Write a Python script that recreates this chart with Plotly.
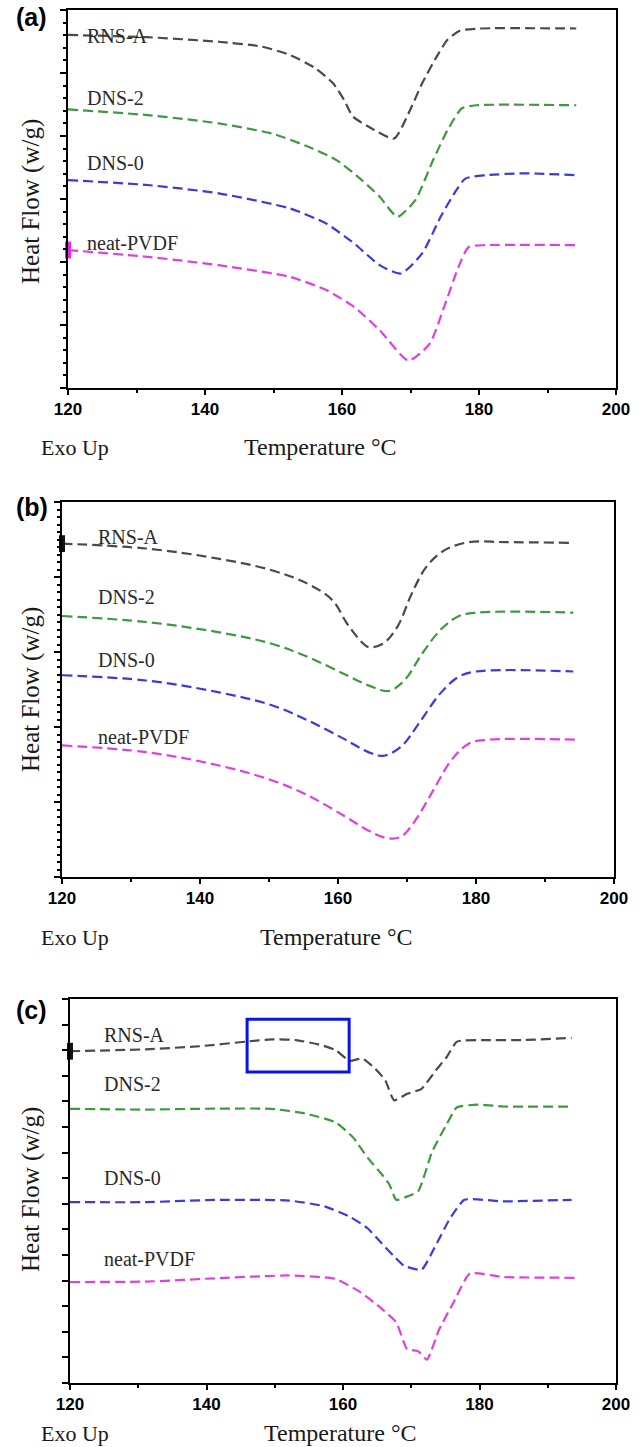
import plotly.graph_objects as go

# ---------------- data (temperature in °C, heat flow in arbitrary units, 0-100 of axis) -------------
# Panel (a)
a_rns_T = [120, 131.6, 142.0, 148.3, 152.4, 156.1, 158.7, 160.3, 161.6, 163.9, 167.6, 169.7, 171.7, 173.8, 175.4, 177.2, 180.1, 194.2]
a_rns_H = [93.4, 92.8, 91.6, 90.3, 88.1, 84.6, 80.6, 76.2, 71.8, 69.1, 66.0, 72.6, 80.6, 87.6, 92.1, 94.5, 95.1, 95.1]
a_dns2_T = [120, 131.6, 142.0, 149.8, 155.1, 159.2, 162.9, 165.5, 168.1, 170.7, 173.3, 175.4, 177.5, 179.6, 194.2]
a_dns2_H = [73.7, 72.2, 70.0, 67.3, 63.8, 60.3, 55.0, 50.6, 45.3, 49.7, 60.3, 68.2, 74.0, 74.8, 74.8]
a_dns0_T = [120, 131.6, 142.0, 152.4, 157.7, 161.8, 165.5, 168.6, 171.7, 174.4, 176.4, 178.0, 181.1, 186.4, 194.2]
a_dns0_H = [55.0, 53.7, 51.5, 47.5, 43.5, 38.2, 32.5, 30.3, 35.6, 45.3, 51.5, 55.4, 56.3, 56.8, 56.3]
a_pvdf_T = [120, 131.6, 142.0, 152.4, 157.7, 161.8, 165.5, 169.7, 172.8, 174.9, 177.0, 178.5, 181.1, 194.2]
a_pvdf_H = [36.5, 34.7, 32.5, 29.4, 25.9, 21.4, 15.3, 7.3, 11.7, 21.4, 32.0, 37.3, 37.8, 37.8]

# Panel (b)
b_rns_T = [120, 132.2, 142.6, 150.4, 155.6, 159.2, 161.3, 163.4, 164.4, 166.5, 168.6, 170.7, 172.8, 175.4, 179.0, 184.2, 194.1]
b_rns_H = [88.9, 87.6, 84.9, 81.8, 78.2, 73.8, 67.6, 62.7, 61.3, 62.2, 66.7, 75.6, 82.7, 87.1, 89.3, 89.3, 89.1]
b_dns2_T = [120, 132.2, 142.6, 150.4, 155.6, 160.8, 164.4, 167.3, 169.6, 172.2, 174.8, 177.4, 180.0, 194.1]
b_dns2_H = [69.6, 68.0, 65.3, 62.2, 58.7, 54.2, 51.1, 49.6, 52.4, 59.6, 65.8, 69.5, 70.5, 70.5]
b_dns0_T = [120, 132.2, 142.6, 150.4, 155.6, 160.8, 164.4, 166.5, 169.1, 171.7, 174.8, 177.4, 180.0, 194.1]
b_dns0_H = [53.8, 52.4, 49.3, 45.8, 41.8, 36.9, 33.3, 32.3, 34.7, 40.9, 48.9, 53.3, 54.8, 54.8]
b_pvdf_T = [120, 132.2, 142.6, 150.4, 155.6, 160.8, 164.4, 167.0, 169.1, 171.2, 173.8, 176.4, 179.0, 181.6, 194.6]
b_pvdf_H = [35.1, 33.3, 29.8, 25.8, 21.8, 16.4, 12.4, 10.4, 10.7, 15.1, 23.1, 31.1, 35.6, 36.6, 36.6]

# Panel (c)
c_rns_T = [120, 131.1, 139.0, 145.8, 149.5, 153.1, 156.8, 158.9, 161.0, 162.8, 164.7, 166.2, 167.5, 169.4, 171.5, 173.6, 175.2, 176.7, 180.9, 186.2, 193.5]
c_rns_H = [86.4, 86.9, 87.7, 88.9, 89.5, 89.3, 88.0, 86.7, 83.9, 84.5, 81.9, 78.8, 73.6, 75.3, 76.6, 81.4, 84.9, 88.9, 89.3, 89.3, 89.9]
c_dns2_T = [120, 131.1, 139.0, 149.5, 154.7, 158.9, 161.5, 163.6, 165.7, 166.8, 167.8, 169.4, 171.0, 173.1, 175.2, 176.7, 179.9, 183.5, 193.5]
c_dns2_H = [71.4, 71.2, 71.4, 71.4, 70.1, 67.9, 63.9, 58.7, 54.3, 51.7, 47.7, 48.6, 49.9, 60.4, 67.4, 71.8, 72.5, 72.0, 72.0]
c_dns0_T = [120, 131.1, 141.6, 152.1, 157.3, 161.0, 163.6, 165.7, 167.3, 168.9, 171.5, 173.6, 175.7, 177.8, 183.5, 193.5]
c_dns0_H = [47.1, 47.1, 47.7, 47.5, 46.0, 43.3, 40.3, 36.3, 33.3, 30.6, 29.5, 35.9, 42.9, 47.7, 47.3, 47.7]
c_pvdf_T = [120, 131.1, 141.6, 152.1, 158.9, 162.6, 165.7, 167.8, 169.4, 171.0, 172.3, 174.1, 176.2, 178.6, 183.5, 194.0]
c_pvdf_H = [26.3, 26.4, 27.3, 28.0, 27.1, 23.6, 19.3, 15.8, 8.8, 8.3, 6.1, 14.0, 21.0, 28.5, 27.6, 27.4]

# highlighted box in panel (c): temperature range and heat-flow range
box_T = [145.95, 160.9]
box_H = [81.0, 94.7]

series_names = ["RNS-A", "DNS-2", "DNS-0", "neat-PVDF"]
series_colors = ["#4a4a4a", "#3f9a3f", "#3a3ae0", "#e040e0"]

# label positions (T, H) per panel
a_label_T = [122.5, 122.5, 122.5, 122.5]
a_label_H = [93.2, 76.6, 59.6, 38.4]
b_label_T = [124.9, 124.9, 124.9, 124.9]
b_label_H = [90.8, 74.7, 57.8, 37.3]
c_label_T = [124.7, 124.7, 124.7, 124.7]
c_label_H = [90.6, 77.9, 53.4, 32.4]

x_ticks = [120, 140, 160, 180, 200]
x_ticktext = ["120", "140", "160", "180", "200"]

W, H = 639, 1447

def py(p):
    return 1 - p / H

def px(p):
    return p / W

panels = [
    dict(series=[(a_rns_T, a_rns_H), (a_dns2_T, a_dns2_H), (a_dns0_T, a_dns0_H), (a_pvdf_T, a_pvdf_H)],
         labT=a_label_T, labH=a_label_H, marker=3, left=68, right=616, top=10, bottom=388, smooth=0.6,
         ydt=100 / 6, yminor=100 / 30, tag="(a)", tagy=17, ylab=202, exoy=447, tempx=242),
    dict(series=[(b_rns_T, b_rns_H), (b_dns2_T, b_dns2_H), (b_dns0_T, b_dns0_H), (b_pvdf_T, b_pvdf_H)],
         labT=b_label_T, labH=b_label_H, marker=0, left=62, right=614, top=502, bottom=877, smooth=1.0,
         ydt=100 / 5, yminor=100 / 50, tag="(b)", tagy=507, ylab=690, exoy=937, tempx=258),
    dict(series=[(c_rns_T, c_rns_H), (c_dns2_T, c_dns2_H), (c_dns0_T, c_dns0_H), (c_pvdf_T, c_pvdf_H)],
         labT=c_label_T, labH=c_label_H, marker=0, left=70, right=616, top=999, bottom=1383, smooth=0.5,
         ydt=100 / 15, yminor=None, tag="(c)", tagy=1010, ylab=1190, exoy=1433, tempx=262),
]

fig = go.Figure()
annotations = []
serif = "Liberation Serif, Times New Roman, serif"

for i, p in enumerate(panels):
    n = "" if i == 0 else str(i + 1)
    xa, ya = "x" + n, "y" + n
    for k, (T, Hf) in enumerate(p["series"]):
        fig.add_trace(go.Scatter(x=T, y=Hf, mode="lines", xaxis=xa, yaxis=ya,
                                 line=dict(color=series_colors[k], width=2.2, dash="10px,5px",
                                           shape="spline", smoothing=p["smooth"]),
                                 showlegend=False, hoverinfo="skip"))
        annotations.append(dict(x=p["labT"][k], y=p["labH"][k], xref=xa, yref=ya, text=series_names[k],
                                showarrow=False, xanchor="left", yanchor="middle",
                                font=dict(family=serif, size=20, color="#2a2a2a")))
    # start marker on the y axis
    mk = p["marker"]
    T0, H0 = p["series"][mk]
    fig.add_trace(go.Scatter(x=[T0[0]], y=[H0[0]], mode="markers", xaxis=xa, yaxis=ya, cliponaxis=False,
                             marker=dict(symbol="line-ns", size=12,
                                         line=dict(width=6, color="#111111" if mk == 0 else "#ee22ee")),
                             showlegend=False, hoverinfo="skip"))
    axis_common = dict(showline=True, linecolor="black", linewidth=2, mirror=True, showgrid=False,
                       zeroline=False, ticks="outside", tickcolor="black", automargin=False)
    fig.layout["xaxis" + n] = dict(axis_common, domain=[px(p["left"]), px(p["right"])], range=[120, 200],
                                   anchor=ya, tickvals=x_ticks, ticktext=x_ticktext, ticklen=5, tickwidth=1.5,
                                   minor=dict(dtick=10, tick0=120, ticklen=3, tickcolor="black", ticks="outside"),
                                   tickfont=dict(family="Liberation Sans, Arial", size=17, color="black",
                                                 weight="bold"))
    ymin = dict(dtick=p["yminor"], tick0=0, ticklen=3, tickcolor="black", ticks="outside") if p["yminor"] else None
    ydict = dict(axis_common, domain=[py(p["bottom"]), py(p["top"])], range=[0, 100], anchor=xa,
                 tick0=0, dtick=p["ydt"], ticklen=6, tickwidth=1.5, showticklabels=False)
    if ymin:
        ydict["minor"] = ymin
    fig.layout["yaxis" + n] = ydict

    annotations.append(dict(x=px(14), y=py(p["tagy"]), xref="paper", yref="paper", text="<b>" + p["tag"] + "</b>",
                            showarrow=False, xanchor="left", yanchor="middle",
                            font=dict(family="Liberation Sans, Arial", size=25, color="black")))
    annotations.append(dict(x=px(31), y=py(p["ylab"]), xref="paper", yref="paper", text="Heat Flow (w/g)",
                            textangle=-90, showarrow=False, xanchor="center", yanchor="middle",
                            font=dict(family=serif, size=25, color="#1a1a1a")))
    annotations.append(dict(x=px(39), y=py(p["exoy"]), xref="paper", yref="paper", text="Exo Up",
                            showarrow=False, xanchor="left", yanchor="middle",
                            font=dict(family=serif, size=22, color="#1a1a1a")))
    annotations.append(dict(x=px(p["tempx"]), y=py(p["exoy"]), xref="paper", yref="paper", text="Temperature °C",
                            showarrow=False, xanchor="left", yanchor="middle",
                            font=dict(family=serif, size=24, color="#1a1a1a")))

fig.add_shape(type="rect", xref="x3", yref="y3", x0=box_T[0], x1=box_T[1], y0=box_H[0], y1=box_H[1],
              line=dict(color="#0a14e6", width=3))

fig.update_layout(width=W, height=H, margin=dict(l=0, r=0, t=0, b=0, autoexpand=False), autosize=False,
                  paper_bgcolor="white", plot_bgcolor="white", annotations=annotations, showlegend=False)

fig.write_html("out.html")
